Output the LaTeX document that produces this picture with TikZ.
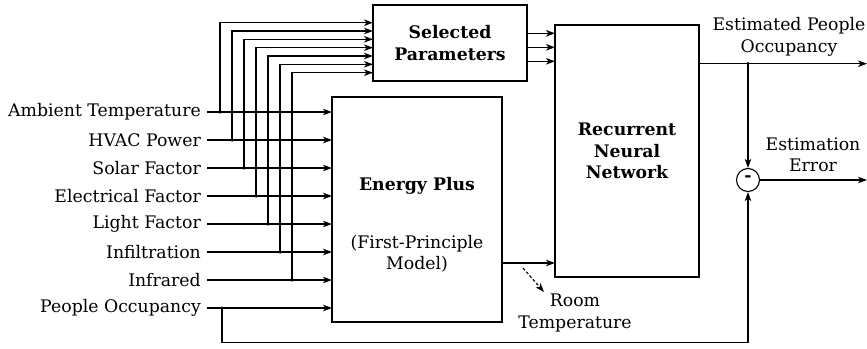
\documentclass[tikz,border=0pt]{standalone}
\usepackage{fontspec}
\setmainfont{DejaVu Serif}
\usetikzlibrary{arrows.meta}
\begin{document}
\begin{tikzpicture}[x=1pt,y=-1pt,
  every node/.style={font=\fontsize{17.3}{21.5}\selectfont, inner sep=0pt},
  blk/.style={draw, line width=1.1pt},
  ln/.style={line width=1.1pt},
  arr/.style={ln, -{Stealth[length=9pt,width=6.5pt,inset=2.5pt]}},
  dot/.style={circle, fill, inner sep=0pt, minimum size=3.5pt},
  lbl/.style={anchor=east, align=right}]
\useasboundingbox (0,0) rectangle (867,348);
% boxes
\node[blk, minimum width=154pt, minimum height=76pt] (sel) at (450,43) {};
\node[font=\fontsize{17.3}{21.5}\selectfont\bfseries, align=center] at (450,43) {Selected\\Parameters};
\node[blk, minimum width=170pt, minimum height=225pt] (ep) at (417,209.5) {};
\node[font=\fontsize{17.3}{21.5}\selectfont\bfseries] at (417,186) {Energy Plus};
\node[align=center] at (417,254) {(First-Principle\\Model)};
\node[blk, minimum width=144pt, minimum height=252pt] (rnn) at (627,151) {};
\node[font=\fontsize{17.3}{21.5}\selectfont\bfseries, align=center] at (627,151) {Recurrent\\Neural\\Network};
\node[draw, circle, line width=1.1pt, minimum size=23pt] (sub) at (748,180) {};
\node at (748,179) {\bfseries -};
% inputs
\foreach \t/\y/\n in {Ambient Temperature/112/a, HVAC Power/140/b, Solar Factor/168/c, Electrical Factor/196/d, Light Factor/224/e, Infiltration/252/f, Infrared/280/g, People Occupancy/308/h}{
  \node[lbl] (\n) at (201,\y) {\t};
  \coordinate (\n e) at (332,\y);
  \draw[arr] (\n.east)++(6,0) -- (\n e);
}
% taps to Selected Parameters
\foreach \n/\x/\yt in {a/220/22.7, b/232/31, c/244/39.3, d/256/47.7, e/268/56, f/280/64.3, g/292/72.7}{
  \coordinate (t\n) at (\x,0 |- \n e);
  \node[dot] at (\x,0 |- \n e) {};
  \coordinate (s\n) at (373,\yt);
  \draw[arr] (\x,0 |- \n e) |- (s\n);
}
% Selected -> RNN
\foreach \y in {33.3,47.3,61.3}{
  \coordinate (so) at (527,\y);
  \coordinate (ri) at (555,\y);
  \draw[arr] (so) -- (ri);
}
% EP -> RNN
\coordinate (epo) at (502,263);
\coordinate (rni) at (555,263);
\draw[arr] (epo) -- (rni);
\coordinate (d1) at (523,268);
\coordinate (d2) at (544,292);
\draw[ln, dash pattern=on 3pt off 2pt, -{Stealth[length=9pt,width=6.5pt,inset=2.5pt]}] (d1) -- (d2);
\node[align=center] at (575,313) {Room\\Temperature};
% RNN output
\coordinate (ro) at (699,63.7);
\coordinate (oute) at (867,63.7);
\coordinate (br) at (748,63.7);
\draw[arr] (ro) -- (oute);
\node[dot] at (br) {};
\draw[arr] (br) -- (sub.north);
\node[align=center] at (789,37) {Estimated People\\Occupancy};
\coordinate (erre) at (867,180);
\draw[arr] (sub.east) -- (erre);
\node[align=center] at (813,155) {Estimation\\Error};
% People occupancy feedback
\node[dot] (ph) at (222,308) {};
\draw[arr] (ph.center) -- (222,342.5) -| (sub.south);
\end{tikzpicture}
\end{document}
